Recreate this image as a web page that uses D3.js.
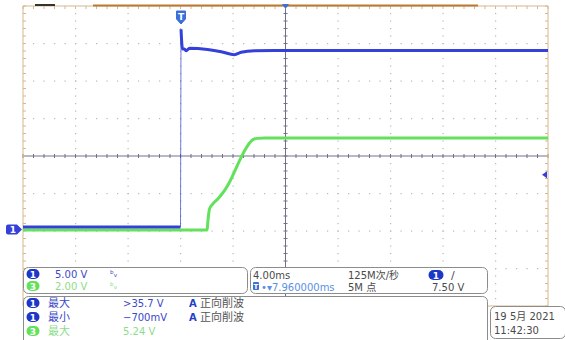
<!DOCTYPE html>
<html>
<head>
<meta charset="utf-8">
<script src="https://cdn.jsdelivr.net/npm/d3@7"></script>
<style>
  body { margin: 0; background: #fff; }
  svg { display: block; font-family: "DejaVu Sans", "Noto Sans CJK SC", sans-serif; }
</style>
</head>
<body>
<svg id="scope" width="565" height="340"></svg>
<script>
// Horizontal: 4.00 ms/div, 10 divisions, trigger 3 divisions from the left edge
const timeDomainMs = [-12, 28];
const timeMajorMs = 4;
// Vertical: 8 divisions
const divDomain = [-4, 4];
const ch1VoltsPerDiv = 5.0;
const ch3VoltsPerDiv = 2.0;
const groundOffsetDiv = -2;
const triggerLevelV = 7.5;

// Channel 1 (blue) capture, time in ms, value in volts
const ch1Time  = [-12, 0.00, 0.04, 0.15, 0.30, 0.43, 0.69, 2.06, 3.10, 4.11, 4.62, 5.64, 7.16, 28];
const ch1Volts = [0.53, 0.53, 26.9, 24.27, 24.27, 24.04, 24.36, 24.2, 23.91, 23.51, 23.83, 24.04, 24.07, 24.07];

// Channel 3 (green) capture
const ch3Time  = [-12, 2.03, 2.08, 2.21, 2.46, 2.84, 3.35, 3.73, 4.11, 4.50, 4.88, 5.26, 5.51, 5.89, 6.40, 28];
const ch3Volts = [0.05, 0.05, 0.46, 1.17, 1.44, 1.71, 2.15, 2.60, 3.16, 3.75, 4.28, 4.69, 4.87, 4.94, 4.96, 4.96];

// Readout texts
const chanScaleLabels = ["5.00 V", "2.00 V"];
const timebaseLabels = ["4.00ms", "125M次/秒", "7.960000ms", "5M 点", "7.50 V"];
const measNames = ["最大", "最小", "最大"];
const measValues = [">35.7 V", "−700mV", "5.24 V"];
const measChannels = ["1", "1", "3"];
const measNotes = ["正向削波", "正向削波", ""];
const dateLabels = ["19 5月 2021", "11:42:30"];

const BLUE = "#3440d8";
const GREEN = "#62e25a";
const BLUE_TEXT = "#3c48c8";
const GREEN_TEXT = "#8edc8a";
const GRAY_TEXT = "#4a4a4a";

const svg = d3.select("#scope");
const x = d3.scaleLinear().domain(timeDomainMs).range([23, 548]);
const yDiv = d3.scaleLinear().domain(divDomain).range([306, 6]);
const y1 = v => yDiv(v / ch1VoltsPerDiv + groundOffsetDiv);
const y3 = v => yDiv(v / ch3VoltsPerDiv + groundOffsetDiv);

const [x0, x1] = x.range();
const [yB, yT] = yDiv.range();

// ---- graticule ----
const grid = svg.append("g");
const majorT = d3.range(timeDomainMs[0], timeDomainMs[1] + 1e-9, timeMajorMs);
const minorT = d3.range(timeDomainMs[0], timeDomainMs[1] + 1e-9, timeMajorMs / 5);
const majorD = d3.range(divDomain[0], divDomain[1] + 1e-9, 1);
const minorD = d3.range(divDomain[0], divDomain[1] + 1e-9, 0.2);
const centerT = (timeDomainMs[0] + timeDomainMs[1]) / 2;

// dotted division lines
majorD.filter(d => d !== 0 && d !== divDomain[0] && d !== divDomain[1]).forEach(d => {
  grid.selectAll(null).data(minorT.slice(1, -1)).enter().append("rect")
    .attr("x", t => x(t) - 0.5).attr("y", yDiv(d) - 0.5).attr("width", 1.2).attr("height", 1.2)
    .attr("fill", "#b8b8b8");
});
majorT.filter(t => t !== centerT && t !== timeDomainMs[0] && t !== timeDomainMs[1]).forEach(t => {
  grid.selectAll(null).data(minorD.slice(1, -1)).enter().append("rect")
    .attr("x", x(t) - 0.5).attr("y", d => yDiv(d) - 0.5).attr("width", 1.2).attr("height", 1.2)
    .attr("fill", "#b8b8b8");
});

// center cross with minor ticks
const crossColor = "#70708e";
grid.append("line").attr("x1", x0).attr("x2", x1).attr("y1", yDiv(0)).attr("y2", yDiv(0))
  .attr("stroke", crossColor).attr("stroke-width", 1);
grid.append("line").attr("x1", x(centerT)).attr("x2", x(centerT)).attr("y1", yT).attr("y2", yB)
  .attr("stroke", crossColor).attr("stroke-width", 1);
grid.selectAll(null).data(minorT).enter().append("line")
  .attr("x1", t => x(t)).attr("x2", t => x(t)).attr("y1", yDiv(0) - 2).attr("y2", yDiv(0) + 2)
  .attr("stroke", crossColor);
grid.selectAll(null).data(minorD).enter().append("line")
  .attr("x1", x(centerT) - 2).attr("x2", x(centerT) + 2).attr("y1", d => yDiv(d)).attr("y2", d => yDiv(d))
  .attr("stroke", crossColor);

// frame edges
const edge = "#d6b78e";
grid.append("line").attr("x1", x0).attr("x2", x0).attr("y1", yT).attr("y2", yB).attr("stroke", edge);
grid.append("line").attr("x1", x1).attr("x2", x1).attr("y1", yT).attr("y2", yB).attr("stroke", edge);
grid.append("line").attr("x1", x0).attr("x2", x1).attr("y1", yT).attr("y2", yT).attr("stroke", edge);
grid.append("line").attr("x1", x0).attr("x2", x1).attr("y1", yB).attr("y2", yB).attr("stroke", edge);
grid.selectAll(null).data(minorD).enter().append("line")
  .attr("x1", x0).attr("x2", x0 + 3).attr("y1", d => yDiv(d)).attr("y2", d => yDiv(d)).attr("stroke", edge);
grid.selectAll(null).data(minorD).enter().append("line")
  .attr("x1", x1 - 3).attr("x2", x1).attr("y1", d => yDiv(d)).attr("y2", d => yDiv(d)).attr("stroke", edge);
grid.selectAll(null).data(minorT).enter().append("line")
  .attr("x1", t => x(t)).attr("x2", t => x(t)).attr("y1", yT).attr("y2", yT + 3).attr("stroke", edge);
// record view bar along the top
grid.append("line").attr("x1", 93).attr("x2", 478).attr("y1", yT - 0.5).attr("y2", yT - 0.5)
  .attr("stroke", "#b97a35").attr("stroke-width", 2);
grid.append("line").attr("x1", 35).attr("x2", 55).attr("y1", yT - 1).attr("y2", yT - 1)
  .attr("stroke", "#333").attr("stroke-width", 2);

// ---- traces ----
svg.append("clipPath").attr("id", "plotclip").append("rect")
  .attr("x", x0).attr("y", yT).attr("width", x1 - x0).attr("height", yB - yT);
const traces = svg.append("g").attr("clip-path", "url(#plotclip)");

function drawTrace(times, volts, yFn, color) {
  const pts = times.map((t, i) => [x(t), yFn(volts[i])]);
  // fast edges are drawn faint, like a low-intensity sweep
  const runs = [];
  let cur = [pts[0]];
  d3.pairs(pts).forEach(([a, b]) => {
    const fast = Math.abs(b[1] - a[1]) > 40 && Math.abs(b[0] - a[0]) < 3;
    if (fast) {
      runs.push({ pts: cur, fast: false });
      runs.push({ pts: [a, b], fast: true });
      cur = [b];
    } else {
      cur.push(b);
    }
  });
  runs.push({ pts: cur, fast: false });
  const line = d3.line().curve(d3.curveMonotoneX);
  runs.filter(r => r.pts.length > 1).forEach(r => {
    traces.append("path")
      .attr("d", r.fast ? d3.line()(r.pts) : line(r.pts))
      .attr("fill", "none")
      .attr("stroke", color)
      .attr("stroke-width", r.fast ? 1 : 3)
      .attr("stroke-opacity", r.fast ? 0.7 : 1)
      .attr("stroke-linejoin", "round");
  });
}
drawTrace(ch3Time, ch3Volts, y3, GREEN);
drawTrace(ch1Time, ch1Volts, y1, BLUE);

// ---- markers ----
const mk = svg.append("g");
// ground reference for channel 1
const gy = y1(0) - 1.5;
mk.append("path")
  .attr("d", `M8,${gy - 5} h9 l5,5 l-5,5 h-9 a2,2 0 0 1 -2,-2 v-6 a2,2 0 0 1 2,-2 z`)
  .attr("fill", BLUE);
mk.append("text").attr("x", 13).attr("y", gy + 3.5).attr("text-anchor", "middle")
  .attr("font-size", 9).attr("font-weight", "bold").attr("fill", "#fff").text("1");
// trigger position
const tx = x(0) + 0.5;
mk.append("path")
  .attr("d", `M${tx - 4.5},11 h9 v8 l-4.5,5 l-4.5,-5 z`)
  .attr("fill", "#3a70d8").attr("stroke", "#3a70d8").attr("stroke-linejoin", "round");
mk.append("text").attr("x", tx).attr("y", 19.5).attr("text-anchor", "middle")
  .attr("font-size", 9).attr("font-weight", "bold").attr("fill", "#fff").text("T");
// expansion point on the top edge
mk.append("path").attr("d", `M${x(centerT) - 3.5},4 h7 l-3.5,5 z`).attr("fill", "#3a70d8");
// trigger level on the right edge
const ty = y1(triggerLevelV);
mk.append("path").attr("d", `M${x1 - 6},${ty} l5,-3.5 v7 z`).attr("fill", BLUE);

// ---- readout panels ----
const panels = svg.append("g");
function panel(px, py, w, h) {
  panels.append("rect").attr("x", px + 0.5).attr("y", py + 0.5).attr("width", w).attr("height", h)
    .attr("rx", 5).attr("fill", "#fff").attr("stroke", "#8c8c8c");
}
function pill(cx, cy, label, color, w = 13) {
  panels.append("rect").attr("x", cx - w / 2).attr("y", cy - 5).attr("width", w).attr("height", 10)
    .attr("rx", 5).attr("fill", color);
  if (label) {
    panels.append("text").attr("x", cx).attr("y", cy + 3.5).attr("text-anchor", "middle")
      .attr("font-size", 9).attr("font-weight", "bold").attr("fill", "#fff").text(label);
  }
}
function txt(tx_, ty_, s, color, size = 10, anchor = "start") {
  return panels.append("text").attr("x", tx_).attr("y", ty_).attr("font-size", size)
    .attr("fill", color).attr("text-anchor", anchor).text(s);
}

panel(23, 267, 224, 26);
panel(250, 267, 237, 26);
panel(23, 296, 464, 60);
panel(490, 306, 75, 32);

// channel scales
pill(33, 274, "1", "#1c36c8");
txt(55, 278, chanScaleLabels[0], BLUE_TEXT);
txt(110, 277, "ᵇᵥ", BLUE_TEXT, 9);
pill(33, 286, "3", GREEN);
txt(55, 290, chanScaleLabels[1], GREEN_TEXT);
txt(110, 289, "ᵇᵥ", GREEN_TEXT, 9);

// timebase / acquisition / trigger
txt(253, 279, timebaseLabels[0], GRAY_TEXT);
txt(348, 279, timebaseLabels[1], GRAY_TEXT);
pill(436, 275, "1", "#1c36c8", 15);
txt(451, 279, "/", GRAY_TEXT, 11);
panels.append("rect").attr("x", 253).attr("y", 282).attr("width", 6).attr("height", 8).attr("rx", 1)
  .attr("fill", "#3a70d8");
txt(256, 289, "T", "#fff", 7, "middle").attr("font-weight", "bold");
txt(261, 291, "•▾" + timebaseLabels[2], "#5b8fe6");
txt(348, 291, timebaseLabels[3], GRAY_TEXT);
txt(432, 291, timebaseLabels[4], GRAY_TEXT);

// measurements
const rowY = [307, 321, 335];
measNames.forEach((name, i) => {
  const isCh1 = measChannels[i] === "1";
  const c = isCh1 ? BLUE_TEXT : GREEN_TEXT;
  pill(33, rowY[i] - 4, measChannels[i], isCh1 ? "#1c36c8" : GREEN);
  txt(48, rowY[i], name, c, 11);
  txt(123, rowY[i], measValues[i], c);
  if (measNotes[i]) {
    txt(189, rowY[i], "A", "#2440c8", 10).attr("font-weight", "bold");
    txt(200, rowY[i], measNotes[i], "#555", 11);
  }
});
// next measurement row, scrolled below the window edge
pill(33, 345, "", GREEN);

// date and time
txt(494, 320, dateLabels[0], GRAY_TEXT);
txt(494, 334, dateLabels[1], GRAY_TEXT);
</script>
</body>
</html>
